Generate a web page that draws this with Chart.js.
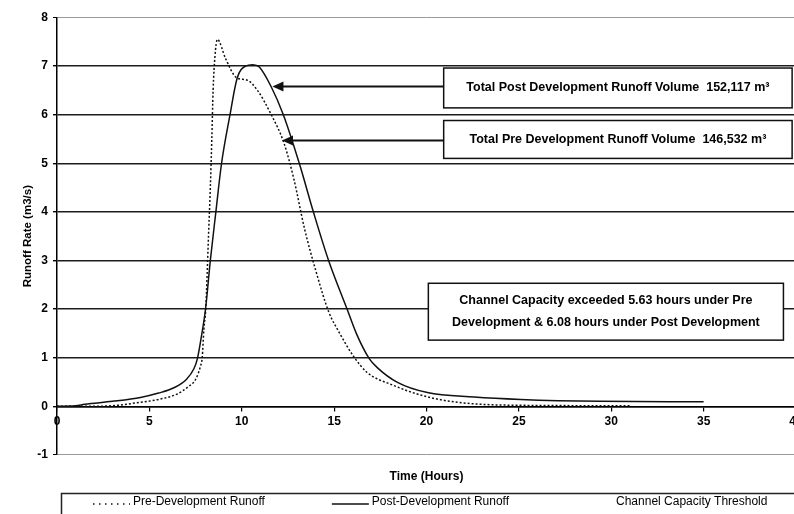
<!DOCTYPE html>
<html>
<head>
<meta charset="utf-8">
<title>Runoff Hydrograph</title>
<script src="https://cdn.jsdelivr.net/npm/chart.js@4.4.1/dist/chart.umd.min.js"></script>
<style>
  html, body { margin: 0; padding: 0; background: #fff; overflow: hidden; }
  #wrap { width: 797px; height: 514px; }
</style>
</head>
<body>
<div id="wrap"><canvas id="runoffChart" width="797" height="514"></canvas></div>
<script>
// runoff hydrograph - pre vs post development

const preTime = [0, 2, 3, 4.5, 5.5, 6.5, 7.1, 7.5, 7.77, 7.86, 7.95, 8.05, 8.2, 8.3, 8.38, 8.45, 8.55, 8.68,
                 9.13, 9.72, 10.3, 10.85, 11.57, 12.29, 12.83, 13.4, 14.0, 14.7, 15.3, 16.1, 16.8, 18.07,
                 19.87, 21.68, 24.75, 31];
const preRate = [0, 0, 0.01, 0.08, 0.14, 0.25, 0.4, 0.55, 0.83, 1.0, 1.58, 2.0, 3.5, 4.5, 5.5, 6.5, 7.2, 7.55,
                 7.15, 6.76, 6.71, 6.5, 6.02, 5.41, 4.66, 3.65, 2.8, 1.95, 1.5, 1.0, 0.69, 0.45,
                 0.21, 0.08, 0.02, 0.01];

const postTime = [0, 1, 1.5, 3, 4.52, 5.5, 6.33, 7.0, 7.41, 7.6, 7.8, 8.04, 8.3, 8.59, 8.9, 9.36, 9.75, 10.2,
                  10.6, 10.95, 11.6, 12.25, 13.13, 13.9, 14.7, 15.7, 16.2, 16.9, 17.35, 18.43, 20.05, 22.58,
                  25.1, 29.4, 35];
const postRate = [0, 0.01, 0.04, 0.1, 0.18, 0.27, 0.38, 0.55, 0.77, 0.98, 1.4, 2.0, 3.0, 3.97, 4.98, 5.99, 6.75, 7.0,
                  7.03, 6.98, 6.57, 6.0, 4.98, 3.97, 3.0, 2.0, 1.5, 0.98, 0.79, 0.49, 0.28, 0.19,
                  0.14, 0.10, 0.09];

const seriesLabels = ["Pre-Development Runoff", "Post-Development Runoff", "Channel Capacity Threshold"];

// text boxes + arrows, positioned in chart units (hours, m3/s)
const noteBoxes = [
  { x: [20.93, 39.79], y: [6.14, 6.96], lines: ["Total Post Development Runoff Volume  152,117 m³"] },
  { x: [20.93, 39.79], y: [5.10, 5.88], lines: ["Total Pre Development Runoff Volume  146,532 m³"] },
  { x: [20.1, 39.32], y: [1.36, 2.53], lines: ["Channel Capacity exceeded 5.63 hours under Pre",
                                                "Development & 6.08 hours under Post Development"] }
];
const noteArrows = [
  { from: [20.93, 6.58], to: [11.66, 6.58] },
  { from: [20.93, 5.47], to: [12.18, 5.47] }
];

const FONT = "'Liberation Sans', Arial, sans-serif";

const toPoints = (xs, ys) => xs.map((x, i) => ({ x: x, y: ys[i] }));

const notesPlugin = {
  id: "notes",
  afterDraw(chart) {
    const ctx = chart.ctx;
    const xs = chart.scales.x, ys = chart.scales.y;
    ctx.save();
    ctx.strokeStyle = "#111";
    ctx.fillStyle = "#111";
    ctx.lineWidth = 2;
    noteArrows.forEach(a => {
      const x1 = xs.getPixelForValue(a.from[0]), y1 = ys.getPixelForValue(a.from[1]);
      const x2 = xs.getPixelForValue(a.to[0]), y2 = ys.getPixelForValue(a.to[1]);
      ctx.beginPath();
      ctx.moveTo(x1, y1);
      ctx.lineTo(x2 + 8, y2);
      ctx.stroke();
      ctx.beginPath();
      ctx.moveTo(x2, y2);
      ctx.lineTo(x2 + 11, y2 - 5);
      ctx.lineTo(x2 + 11, y2 + 5);
      ctx.closePath();
      ctx.fill();
    });
    noteBoxes.forEach(b => {
      const left = xs.getPixelForValue(b.x[0]), right = xs.getPixelForValue(b.x[1]);
      const top = ys.getPixelForValue(b.y[1]), bottom = ys.getPixelForValue(b.y[0]);
      ctx.fillStyle = "#fff";
      ctx.fillRect(left, top, right - left, bottom - top);
      ctx.lineWidth = 1.5;
      ctx.strokeStyle = "#111";
      ctx.strokeRect(left, top, right - left, bottom - top);
      ctx.fillStyle = "#000";
      ctx.font = "bold 12.5px " + FONT;
      ctx.textAlign = "center";
      ctx.textBaseline = "middle";
      const cx = (left + right) / 2, cy = (top + bottom) / 2;
      const lh = 22;
      b.lines.forEach((t, i) => {
        ctx.fillText(t, cx, cy + (i - (b.lines.length - 1) / 2) * lh);
      });
    });
    ctx.restore();
  }
};

// legend strip along the bottom edge
const legendPlugin = {
  id: "stripLegend",
  afterDraw(chart) {
    const ctx = chart.ctx;
    const top = 493.5, left = 61.5;
    ctx.save();
    ctx.strokeStyle = "#222";
    ctx.lineWidth = 1.5;
    ctx.strokeRect(left, top, chart.width, 40);
    ctx.font = "12px " + FONT;
    ctx.textBaseline = "middle";
    ctx.textAlign = "left";
    let x = 93;
    chart.data.datasets.forEach(ds => {
      ctx.strokeStyle = ds.borderColor;
      ctx.lineWidth = ds.borderWidth;
      ctx.setLineDash(ds.legendDash || []);
      ctx.beginPath();
      ctx.moveTo(x, 504);
      ctx.lineTo(x + 37, 504);
      ctx.stroke();
      ctx.setLineDash([]);
      ctx.fillStyle = "#000";
      ctx.fillText(ds.label, x + 40, 501.5);
      x += 40 + ctx.measureText(ds.label).width + 67;
    });
    ctx.restore();
  }
};

const edgeValue = v => v === 8 || v === -1;

new Chart(document.getElementById("runoffChart").getContext("2d"), {
  type: "line",
  data: {
    datasets: [
      {
        label: seriesLabels[0],
        data: toPoints(preTime, preRate),
        borderColor: "#111",
        borderWidth: 1.5,
        borderDash: [2, 2],
        legendDash: [1.5, 4.5],
        pointRadius: 0,
        cubicInterpolationMode: "monotone",
        fill: false
      },
      {
        label: seriesLabels[1],
        data: toPoints(postTime, postRate),
        borderColor: "#111",
        borderWidth: 1.5,
        pointRadius: 0,
        cubicInterpolationMode: "monotone",
        fill: false
      },
      {
        label: seriesLabels[2],
        data: [],
        borderColor: "#fff",
        borderWidth: 1.5,
        pointRadius: 0
      }
    ]
  },
  options: {
    responsive: false,
    animation: false,
    layout: { padding: { top: 17.5, right: 1, bottom: 21.8, left: 0 } },
    plugins: {
      legend: { display: false },
      tooltip: { enabled: false },
      title: {
        display: true,
        text: "Time (Hours)",
        position: "bottom",
        fullSize: false,
        color: "#000",
        font: { family: FONT, size: 12, weight: "bold" },
        padding: { top: 15, bottom: 8 }
      }
    },
    scales: {
      x: {
        type: "linear",
        position: { y: 0 },
        min: 0,
        max: 40,
        afterFit: s => { s.paddingLeft = 0; s.paddingRight = 0; },
        ticks: {
          stepSize: 5,
          autoSkip: false,
          maxRotation: 0,
          padding: 4,
          color: "#000",
          font: { family: FONT, size: 12, weight: "bold" }
        },
        grid: { display: true, drawOnChartArea: false, drawTicks: true, tickLength: 4, color: "#000", lineWidth: 1.2 },
        border: { display: true, color: "#000", width: 1.4 }
      },
      y: {
        min: -1,
        max: 8,
        afterFit: s => { s.width = 57; },
        ticks: {
          stepSize: 1,
          padding: 5,
          color: "#000",
          font: { family: FONT, size: 12, weight: "bold" }
        },
        grid: {
          color: c => edgeValue(c.tick.value) ? "#9a9a9a" : "#1c1c1c",
          lineWidth: c => edgeValue(c.tick.value) ? 1 : 1.4,
          borderDash: c => edgeValue(c.tick.value) ? [2, 2] : [],
          drawTicks: true,
          tickLength: 4,
          tickColor: "#000"
        },
        border: { display: true, color: "#000", width: 1.5 },
        title: {
          display: true,
          text: "Runoff Rate (m3/s)",
          color: "#000",
          font: { family: FONT, size: 11.5, weight: "bold" },
          padding: { top: 21, bottom: 0 }
        }
      }
    }
  },
  plugins: [notesPlugin, legendPlugin]
});
</script>
</body>
</html>
